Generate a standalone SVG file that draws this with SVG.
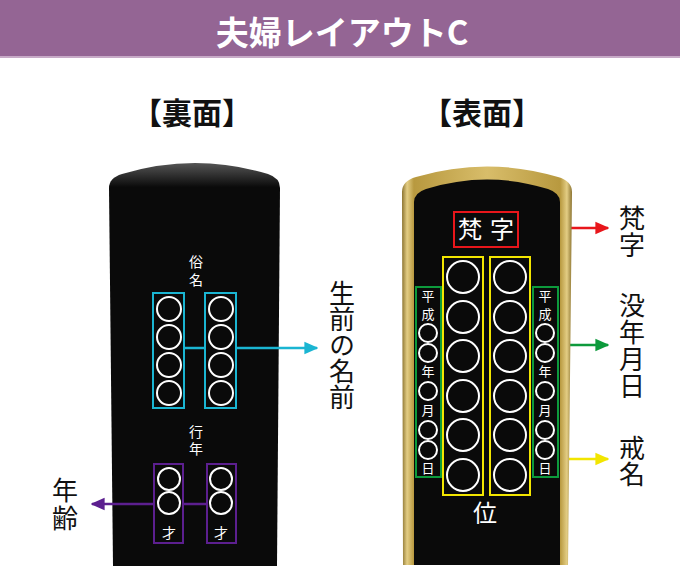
<svg xmlns="http://www.w3.org/2000/svg" width="680" height="575" viewBox="0 0 680 575">
<defs>
<style>
.hd{font-family:"Noto Sans CJK JP","Noto Sans",sans-serif;font-weight:bold;text-anchor:middle}
.lb{font-family:"Noto Sans CJK JP",sans-serif;font-size:26px;fill:#111;writing-mode:vertical-rl;text-anchor:start}
.tw{font-family:"Noto Sans CJK JP",sans-serif;fill:#fff;text-anchor:middle}
.tv{font-family:"Noto Sans CJK JP",sans-serif;fill:#fff;writing-mode:vertical-rl;text-anchor:start}
.c{fill:none;stroke:#fff;stroke-width:2}
</style>
<linearGradient id="gold" x1="0" y1="0" x2="1" y2="0">
<stop offset="0" stop-color="#8c7431"/>
<stop offset="0.03" stop-color="#e3cd84"/>
<stop offset="0.07" stop-color="#b8993f"/>
<stop offset="0.5" stop-color="#d8bd6a"/>
<stop offset="0.93" stop-color="#b8993f"/>
<stop offset="0.97" stop-color="#e3cd84"/>
<stop offset="1" stop-color="#8c7431"/>
</linearGradient>
<linearGradient id="topg" x1="0" y1="0" x2="0" y2="1">
<stop offset="0" stop-color="#555"/>
<stop offset="0.06" stop-color="#0a0a0a"/>
<stop offset="1" stop-color="#0a0a0a"/>
</linearGradient>
<marker id="ar" viewBox="0 0 10 10" refX="9" refY="5" markerWidth="5.6" markerHeight="5.6" markerUnits="strokeWidth" orient="auto">
<path d="M0,0.5 L10,5 L0,9.5 Z" fill="context-stroke"/>
</marker>
</defs>
<rect width="680" height="575" fill="#fff"/>
<g id="header">
<rect x="0" y="0" width="680" height="56" fill="#946594"/>
<rect x="0" y="56" width="680" height="2" fill="#c7aac7"/>
<text x="342" y="45" class="hd" font-size="33" fill="#fff">夫婦レイアウトC</text>
</g>
<g id="headings">
<text x="192" y="124" class="hd" font-size="30" fill="#111">【裏面】</text>
<text x="482" y="124" class="hd" font-size="30" fill="#111">【表面】</text>
</g>
<g id="back-tablet">
<path d="M109,188 Q109,178 122,174 Q195,152 268,174 Q280,178 280,188 L277,566 L113,566 Z" fill="url(#topg)"/>
<text x="196" y="255" class="tv" font-size="14" letter-spacing="4">俗名</text>
<text x="196" y="425" class="tv" font-size="14" letter-spacing="3">行年</text>
</g>
<g id="connectors" fill="none">
<path d="M184,348 H204 M236,348 H317" stroke="#1ab5d2" stroke-width="2.5" marker-end="url(#ar)"/>
<path d="M207,504 H183 M154,504 H92" stroke="#5c1f8f" stroke-width="2.5" marker-end="url(#ar)"/>
<path d="M518,228 H608" stroke="#e8161b" stroke-width="2.5" marker-end="url(#ar)"/>
<path d="M441,345 H443 M483,345 H490 M530,345 H533 M558,345 H608" stroke="#0d9a3c" stroke-width="2.5" marker-end="url(#ar)"/>
<path d="M483,459 H490 M530,459 H533 M558,459 H608" stroke="#f2e500" stroke-width="2.5" marker-end="url(#ar)"/>
</g>
<g id="zokumyo">
<rect x="153" y="293" width="31" height="115" fill="none" stroke="#1ab5d2" stroke-width="2"/>
<rect x="205" y="293" width="31" height="115" fill="none" stroke="#1ab5d2" stroke-width="2"/>
<circle class="c" cx="169" cy="309" r="12"/><circle class="c" cx="169" cy="337" r="12"/><circle class="c" cx="169" cy="365" r="12"/><circle class="c" cx="169" cy="393" r="12"/>
<circle class="c" cx="221" cy="309" r="12"/><circle class="c" cx="221" cy="337" r="12"/><circle class="c" cx="221" cy="365" r="12"/><circle class="c" cx="221" cy="393" r="12"/>
</g>
<g id="gyonen">
<rect x="154" y="464" width="29" height="79" fill="none" stroke="#5c1f8f" stroke-width="2"/>
<rect x="207" y="464" width="29" height="79" fill="none" stroke="#5c1f8f" stroke-width="2"/>
<circle class="c" cx="169" cy="479" r="11"/><circle class="c" cx="169" cy="503" r="11"/>
<circle class="c" cx="221" cy="479" r="11"/><circle class="c" cx="221" cy="503" r="11"/>
<text x="169" y="538" class="tw" font-size="14">才</text>
<text x="221" y="538" class="tw" font-size="14">才</text>
</g>
<g id="front-tablet">
<path d="M402,192 Q402,181 416,177 Q487,156 558,177 Q572,181 572,192 L568,565 L403,565 Z" fill="url(#gold)"/>
<path d="M414,202 Q414,193 426,189 Q487,170 548,189 Q560,193 560,202 L560,565 L414,565 Z" fill="#0a0a0a"/>
<text x="485" y="522" class="tw" font-size="24">位</text>
</g>
<g id="bonji">
<rect x="454" y="212" width="64" height="35" fill="none" stroke="#e8161b" stroke-width="2"/>
<text x="470" y="238" class="tw" font-size="24">梵</text>
<text x="502" y="238" class="tw" font-size="24">字</text>
</g>
<g id="kaimyo">
<rect x="443" y="257" width="40" height="238" fill="none" stroke="#f2e500" stroke-width="2"/>
<rect x="490" y="257" width="40" height="238" fill="none" stroke="#f2e500" stroke-width="2"/>
<circle class="c" cx="463" cy="277" r="16"/><circle class="c" cx="463" cy="317" r="16"/><circle class="c" cx="463" cy="356" r="16"/><circle class="c" cx="463" cy="396" r="16"/><circle class="c" cx="463" cy="435" r="16"/><circle class="c" cx="463" cy="475" r="16"/>
<circle class="c" cx="510" cy="277" r="16"/><circle class="c" cx="510" cy="317" r="16"/><circle class="c" cx="510" cy="356" r="16"/><circle class="c" cx="510" cy="396" r="16"/><circle class="c" cx="510" cy="435" r="16"/><circle class="c" cx="510" cy="475" r="16"/>
</g>
<g id="botsunengappi-left">
<rect x="416" y="287" width="25" height="190" fill="none" stroke="#0d9a3c" stroke-width="2"/>
<text x="428" y="290" class="tv" font-size="13" letter-spacing="5">平成</text>
<circle class="c" cx="428" cy="333" r="9"/><circle class="c" cx="428" cy="353" r="9"/>
<text x="428" y="376" class="tw" font-size="13">年</text>
<circle class="c" cx="428" cy="391" r="9"/>
<text x="428" y="415" class="tw" font-size="13">月</text>
<circle class="c" cx="428" cy="430" r="9"/><circle class="c" cx="428" cy="450" r="9"/>
<text x="428" y="473" class="tw" font-size="13">日</text>
</g>
<g id="botsunengappi-right">
<rect x="533" y="287" width="25" height="190" fill="none" stroke="#0d9a3c" stroke-width="2"/>
<text x="545" y="290" class="tv" font-size="13" letter-spacing="5">平成</text>
<circle class="c" cx="545" cy="333" r="9"/><circle class="c" cx="545" cy="353" r="9"/>
<text x="545" y="376" class="tw" font-size="13">年</text>
<circle class="c" cx="545" cy="391" r="9"/>
<text x="545" y="415" class="tw" font-size="13">月</text>
<circle class="c" cx="545" cy="430" r="9"/><circle class="c" cx="545" cy="450" r="9"/>
<text x="545" y="473" class="tw" font-size="13">日</text>
</g>
<g id="label-seizen">
<text x="342" y="280" class="lb">生前の名前</text>
</g>
<g id="label-nenrei">
<text x="65" y="477" class="lb" letter-spacing="2">年齢</text>
</g>
<g id="label-bonji">
<text x="632" y="205" class="lb" letter-spacing="1">梵字</text>
</g>
<g id="label-botsu">
<text x="632" y="292" class="lb" letter-spacing="1">没年月日</text>
</g>
<g id="label-kaimyo">
<text x="632" y="435" class="lb">戒名</text>
</g>
</svg>
